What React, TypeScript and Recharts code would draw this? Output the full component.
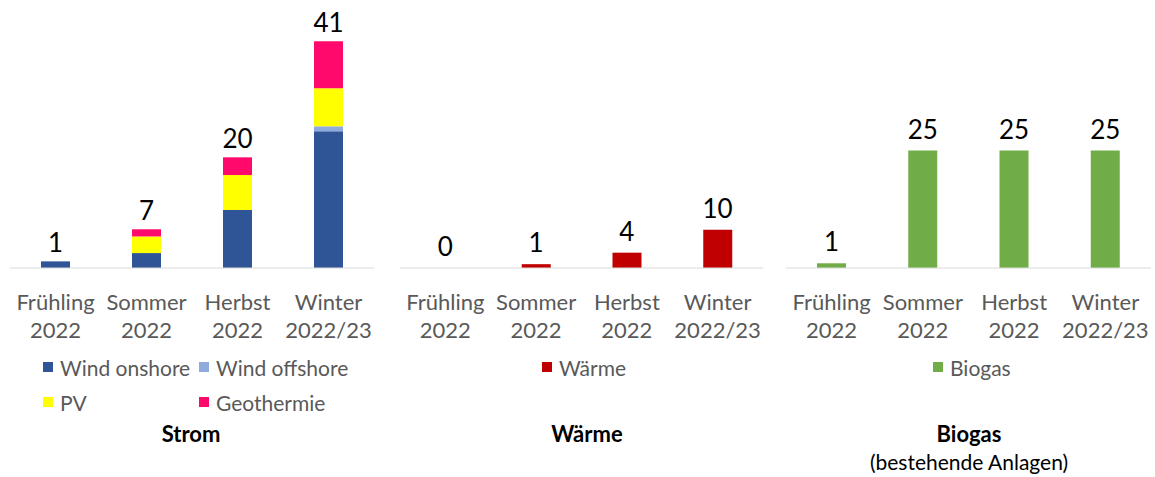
import React from 'react';
import { ComposedChart, Bar, Line, XAxis, YAxis, LabelList, Legend } from 'recharts';

const seasons = ['Frühling', 'Sommer', 'Herbst', 'Winter'];
const years = ['2022', '2022', '2022', '2022/23'];

const stromSeries = ['Wind onshore', 'Wind offshore', 'PV', 'Geothermie'];
const windOnshore = [1.2, 2.7, 10.5, 24.7];
const windOffshore = [0, 0, 0, 0.9];
const pv = [0, 3.0, 6.3, 6.9];
const geothermie = [0, 1.3, 3.2, 8.5];
const stromTotals = [1, 7, 20, 41];
const waerme = [0, 1, 4, 10];
const biogas = [1, 25, 25, 25];

const FONT = 'Lato, "Open Sans", sans-serif';
const TICK_COLOR = '#595959';

const stromData = seasons.map((s, i) => ({
  season: s,
  onshore: windOnshore[i],
  offshore: windOffshore[i],
  pv: pv[i],
  geo: geothermie[i],
  stackTop: windOnshore[i] + windOffshore[i] + pv[i] + geothermie[i],
  total: stromTotals[i],
}));
const waermeData = seasons.map((s, i) => ({ season: s, value: waerme[i] }));
const biogasData = seasons.map((s, i) => ({ season: s, value: biogas[i] }));

const SeasonTick = (props: any) => {
  const { x, y, payload, index } = props;
  const i = payload && payload.index !== undefined ? payload.index : index;
  return (
    <text x={x} y={y} textAnchor="middle" fill={TICK_COLOR} fontSize={22} fontFamily={FONT}>
      <tspan x={x} y={y + 42}>{payload.value}</tspan>
      <tspan x={x} y={y + 70}>{years[i]}</tspan>
    </text>
  );
};

const makeLegend = (cols: number, colWidth: number) => (props: any) => {
  const items = [...(props.payload || [])].filter((it: any) => it.type !== 'none');
  items.sort((a: any, b: any) => stromSeries.indexOf(a.value) - stromSeries.indexOf(b.value));
  return (
    <div
      style={{
        display: 'grid',
        gridTemplateColumns: `repeat(${cols}, ${colWidth}px)`,
        fontFamily: FONT,
        fontSize: 21,
        color: TICK_COLOR,
      }}
    >
      {items.map((it: any) => (
        <div key={it.value} style={{ height: 35, display: 'flex', alignItems: 'center', whiteSpace: 'nowrap' }}>
          <span style={{ width: 10, height: 10, background: it.color, marginRight: 7, display: 'inline-block', flex: 'none' }} />
          <span>{it.value}</span>
        </div>
      ))}
    </div>
  );
};

const labelProps = { fill: '#000', fontSize: 26, fontFamily: FONT };

const xAxisProps = {
  dataKey: 'season',
  tick: <SeasonTick />,
  tickLine: false,
  tickSize: 0,
  tickMargin: 0,
  interval: 0 as const,
  height: 30,
  axisLine: { stroke: '#D9D9D9', strokeWidth: 1 },
};

const W = 385;
const H = 477;

const titleStyle: React.CSSProperties = {
  position: 'absolute',
  width: 300,
  textAlign: 'center',
  fontFamily: FONT,
  fontSize: 22,
  fontWeight: 700,
  color: '#000',
  lineHeight: 1.2,
};

export default function App() {
  return (
    <div style={{ position: 'absolute', left: 0, top: 0, width: 1155, height: 477, background: '#fff', fontFamily: FONT, overflow: 'hidden' }}>
      <div style={{ position: 'absolute', left: 0, top: 0 }}>
        <ComposedChart width={W} height={H} data={stromData} margin={{ top: 19, right: 11, bottom: 179, left: 10 }}>
          <XAxis {...xAxisProps} />
          <YAxis hide domain={[0, 45]} />
          <Legend
            layout="vertical"
            align="center"
            verticalAlign="middle"
            content={makeLegend(2, 156)}
            wrapperStyle={{ top: 349.5, left: 43, width: 330, height: 70 }}
          />
          <Bar dataKey="onshore" name="Wind onshore" stackId="s" fill="#2F5597" barSize={29} isAnimationActive={false} />
          <Bar dataKey="offshore" name="Wind offshore" stackId="s" fill="#8FAADC" barSize={29} isAnimationActive={false} />
          <Bar dataKey="pv" name="PV" stackId="s" fill="#FFFF00" barSize={29} isAnimationActive={false} />
          <Bar dataKey="geo" name="Geothermie" stackId="s" fill="#FF0A6C" barSize={29} isAnimationActive={false} />
          <Line dataKey="stackTop" stroke="none" dot={false} activeDot={false} legendType="none" isAnimationActive={false}>
            <LabelList dataKey="total" position="top" offset={9} {...labelProps} />
          </Line>
        </ComposedChart>
      </div>
      <div style={{ position: 'absolute', left: 385, top: 0 }}>
        <ComposedChart width={W} height={H} data={waermeData} margin={{ top: 19, right: 7, bottom: 179, left: 15 }}>
          <XAxis {...xAxisProps} />
          <YAxis hide domain={[0, 65]} />
          <Legend
            layout="vertical"
            align="center"
            verticalAlign="middle"
            content={makeLegend(1, 150)}
            wrapperStyle={{ top: 349.5, left: 157, width: 150, height: 35 }}
          />
          <Bar dataKey="value" name="Wärme" fill="#C00000" barSize={29} isAnimationActive={false} />
          <Line dataKey="value" stroke="none" dot={false} activeDot={false} legendType="none" isAnimationActive={false}>
            <LabelList dataKey="value" position="top" offset={12} {...labelProps} />
          </Line>
        </ComposedChart>
      </div>
      <div style={{ position: 'absolute', left: 770, top: 0 }}>
        <ComposedChart width={W} height={H} data={biogasData} margin={{ top: 19, right: 4, bottom: 179, left: 16 }}>
          <XAxis {...xAxisProps} />
          <YAxis hide domain={[0, 53]} />
          <Legend
            layout="vertical"
            align="center"
            verticalAlign="middle"
            content={makeLegend(1, 150)}
            wrapperStyle={{ top: 349.5, left: 163, width: 150, height: 35 }}
          />
          <Bar dataKey="value" name="Biogas" fill="#70AD47" barSize={29} isAnimationActive={false} />
          <Line dataKey="value" stroke="none" dot={false} activeDot={false} legendType="none" isAnimationActive={false}>
            <LabelList dataKey="value" position="top" offset={12} {...labelProps} />
          </Line>
        </ComposedChart>
      </div>
      <div style={{ ...titleStyle, left: 191 - 150, top: 421 }}>Strom</div>
      <div style={{ ...titleStyle, left: 587 - 150, top: 421 }}>Wärme</div>
      <div style={{ ...titleStyle, left: 969 - 150, top: 421 }}>Biogas</div>
      <div style={{ ...titleStyle, left: 969 - 150, top: 449, fontWeight: 400, fontSize: 21 }}>(bestehende Anlagen)</div>
    </div>
  );
}
